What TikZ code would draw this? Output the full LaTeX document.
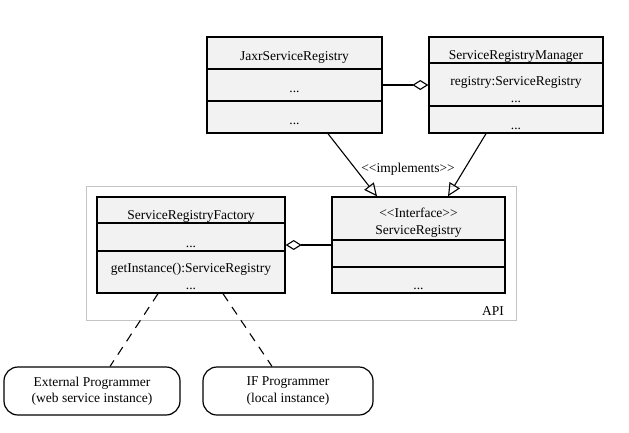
\documentclass[tikz,border=0pt]{standalone}
\usepackage{fontspec}
\setmainfont{Liberation Serif}[Ligatures=TeXOff]
\usetikzlibrary{arrows.meta}
\definecolor{boxgray}{HTML}{F2F2F2}
\definecolor{framegray}{HTML}{C4C4C4}

\begin{document}
\begin{tikzpicture}[x=1pt,y=-1pt,
        font=\fontsize{13.5}{16.5}\selectfont,
        umlclass/.style={draw,fill=boxgray,line width=1.4pt,minimum height=96pt,inner sep=0pt},
        divider/.style={line width=1.4pt},
        txt/.style={anchor=base,inner sep=0pt},
        actor/.style={draw,rounded corners=14pt,line width=1.2pt,minimum height=48pt,align=center,inner sep=0pt},
        aggr/.style={line width=1.1pt,-{Diamond[open,length=16pt,width=10pt]}},
        impl/.style={line width=1.1pt,-{Triangle[open,length=13pt,width=12pt]}},
        uses/.style={line width=1.1pt,dash pattern=on 9pt off 7pt}]

                \useasboundingbox (0,0) rectangle (629,432);

                \node[draw=framegray,line width=1pt,minimum width=430pt,minimum height=134pt,inner sep=0pt] (api) at (301,253) {};
                \node[txt] (apilabel) at (493,315) {API};

                \node[umlclass,minimum width=175pt] (jaxr) at (294.5,85) {};
                \draw[divider] (jaxr.west |- 0,69) -- (jaxr.east |- 0,69);
                \draw[divider] (jaxr.west |- 0,101) -- (jaxr.east |- 0,101);
                \node[txt] (jaxrname) at (294.5,60) {JaxrServiceRegistry};
                \node[txt] (jaxrattr) at (294.5,92) {...};
                \node[txt] (jaxrops) at (294.5,124) {...};

                \node[umlclass,minimum width=174pt] (mgr) at (516,85) {};
                \draw[divider] (mgr.west |- 0,63) -- (mgr.east |- 0,63);
                \draw[divider] (mgr.west |- 0,106) -- (mgr.east |- 0,106);
                \node[txt] (mgrname) at (516,59) {ServiceRegistryManager};
                \node[txt] (mgrattr) at (516,85) {registry:ServiceRegistry};
                \node[txt] (mgrdots) at (516,102) {...};
                \node[txt] (mgrops) at (516,129) {...};

                \node[umlclass,minimum width=188pt] (factory) at (191,245) {};
                \draw[divider] (factory.west |- 0,223) -- (factory.east |- 0,223);
                \draw[divider] (factory.west |- 0,251) -- (factory.east |- 0,251);
                \node[txt] (factoryname) at (191,219) {ServiceRegistryFactory};
                \node[txt] (factoryattr) at (191,247) {...};
                \node[txt] (factoryops) at (191,272) {getInstance():ServiceRegistry};
                \node[txt] (factorydots) at (191,289) {...};

                \node[umlclass,minimum width=173pt] (iface) at (418.5,245) {};
                \draw[divider] (iface.west |- 0,240) -- (iface.east |- 0,240);
                \draw[divider] (iface.west |- 0,267) -- (iface.east |- 0,267);
                \node[txt] (ifacestereo) at (418.5,217) {<<Interface>>};
                \node[txt] (ifacename) at (418.5,234) {ServiceRegistry};
                \node[txt] (ifaceops) at (418.5,289) {...};

                \node[actor,minimum width=176pt] (ext) at (92,391) {External Programmer\\(web service instance)};
                \node[actor,minimum width=170pt] (ifprog) at (288,391) {IF Programmer\\(local instance)};

                \draw[aggr] (jaxr.east) -- (mgr.west);
                \draw[aggr] (iface.west) -- (factory.east);
                \draw[impl] ([xshift=33.5pt]jaxr.south) -- ([xshift=-41.5pt]iface.north);
                \draw[impl] ([xshift=-30pt]mgr.south) -- ([xshift=29.5pt]iface.north);
                \node[txt] (implements) at (408,172) {<<implements>>};

                \draw[uses] ([xshift=-33pt]factory.south) -- ([xshift=18pt]ext.north);
                \draw[uses] ([xshift=32pt]factory.south) -- ([xshift=-16pt]ifprog.north);
            \end{tikzpicture}
\end{document}
